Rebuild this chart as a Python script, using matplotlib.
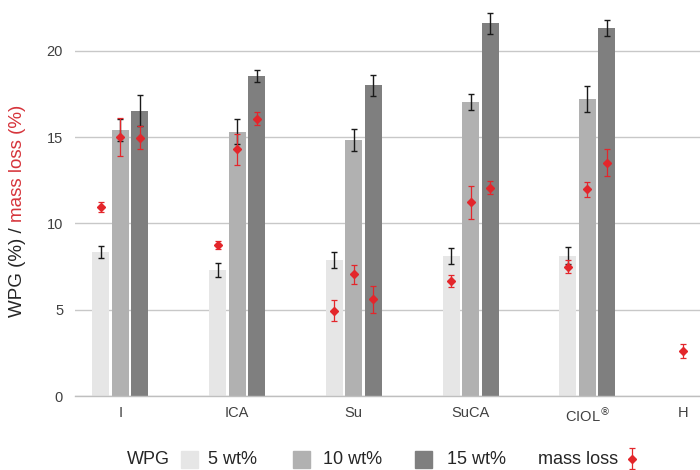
import numpy as np
import matplotlib
matplotlib.use('Agg')
import matplotlib.pyplot as plt
from matplotlib.patches import Rectangle

plt.rcParams['font.family'] = ['Liberation Sans', 'DejaVu Sans']

groups = ['I', 'ICA', 'Su', 'SuCA', r'CIOL$^{\circledR}$']
concentrations = ['5 wt%', '10 wt%', '15 wt%']

# weight percent gain (%) and standard deviations
wpg_5 = [8.35, 7.30, 7.88, 8.12, 8.13]
wpg_5_err = [0.33, 0.40, 0.48, 0.48, 0.48]
wpg_10 = [15.42, 15.32, 14.84, 17.02, 17.20]
wpg_10_err = [0.65, 0.72, 0.65, 0.47, 0.75]
wpg_15 = [16.54, 18.55, 18.01, 21.60, 21.33]
wpg_15_err = [0.90, 0.37, 0.60, 0.60, 0.45]

# mass loss (%) after leaching
ml_5 = [10.97, 8.75, 4.95, 6.67, 7.50]
ml_5_err = [0.30, 0.25, 0.63, 0.37, 0.37]
ml_10 = [15.00, 14.30, 7.05, 11.23, 11.98]
ml_10_err = [1.10, 0.90, 0.53, 0.95, 0.43]
ml_15 = [14.98, 16.06, 5.60, 12.08, 13.53]
ml_15_err = [0.68, 0.38, 0.80, 0.36, 0.78]

# untreated reference
h_label = 'H'
h_ml = 2.61
h_ml_err = 0.42

bar_colors = ['#e6e6e6', '#b1b1b1', '#7f7f7f']
red = '#e3262b'
text_col = '#262626'

fig = plt.figure(figsize=(7, 4.7), dpi=100)
ax = fig.add_axes([0.107, 0.1574, 0.893, 0.837])

x = np.arange(len(groups))
x_h = 4.82
width = 0.146
offsets = [-0.167, 0, 0.167]

wpg = [wpg_5, wpg_10, wpg_15]
wpg_err = [wpg_5_err, wpg_10_err, wpg_15_err]
ml = [ml_5, ml_10, ml_15]
ml_err = [ml_5_err, ml_10_err, ml_15_err]

for i in range(3):
    ax.bar(x + offsets[i], wpg[i], width, color=bar_colors[i], zorder=2)
    ax.errorbar(x + offsets[i], wpg[i], yerr=wpg_err[i], fmt='none',
                ecolor='#1a1a1a', elinewidth=1, capsize=2.5, capthick=1, zorder=3)
    ax.errorbar(x + offsets[i], ml[i], yerr=ml_err[i], fmt='D', color=red,
                markersize=4.5, ecolor=red, elinewidth=0.9, capsize=2.5,
                capthick=0.9, zorder=4)

ax.errorbar([x_h], [h_ml], yerr=[h_ml_err], fmt='D', color=red, markersize=4.5,
            ecolor=red, elinewidth=0.9, capsize=2.5, capthick=0.9, zorder=4)

ax.set_xlim(-0.39, 4.966)
ax.set_ylim(0, 22.8)
ax.set_yticks([0, 5, 10, 15, 20])
ax.set_xticks(list(x) + [x_h])
ax.set_xticklabels(groups + [h_label])
ax.tick_params(axis='both', length=0, labelsize=10.5, colors='#404040')
ax.tick_params(axis='y', pad=8.5)
ax.tick_params(axis='x', pad=7)
ax.grid(axis='y', color='#c8c8c8', linewidth=1, zorder=0)
ax.set_axisbelow(True)
for side in ['left', 'right', 'top']:
    ax.spines[side].set_visible(False)
ax.spines['bottom'].set_color('#bfbfbf')
ax.spines['bottom'].set_linewidth(1)

# two-coloured y label
fig.canvas.draw()
renderer = fig.canvas.get_renderer()
t1 = fig.text(0.0257, 0.3255, 'WPG (%) / ', rotation=90, ha='center', va='bottom',
              fontsize=13.5, color=text_col)
bb = t1.get_window_extent(renderer).transformed(fig.transFigure.inverted())
fig.text(0.0257, bb.y1, 'mass loss (%)', rotation=90, ha='center', va='bottom',
         fontsize=13.5, color='#d6343b')

# legend along the bottom
ly = 0.0223
fs = 13
pw, ph = 17 / 700, 17 / 470
fig.text(0.181, ly, 'WPG', ha='left', va='center', fontsize=fs, color=text_col)
patch_x = [0.2586, 0.4186, 0.593]
label_x = [0.297, 0.461, 0.6386]
for px, lx, col, lab in zip(patch_x, label_x, bar_colors, concentrations):
    fig.patches.append(Rectangle((px, ly - ph / 2), pw, ph, color=col,
                                 transform=fig.transFigure, figure=fig))
    fig.text(lx, ly, lab, ha='left', va='center', fontsize=fs, color=text_col)
fig.text(0.7686, ly, 'mass loss', ha='left', va='center', fontsize=fs, color=text_col)

lax = fig.add_axes([0.88, 0.0, 0.046, 0.052])
lax.errorbar([0], [0], yerr=[1], fmt='D', color=red, markersize=4.5, ecolor=red,
             elinewidth=0.9, capsize=2.5, capthick=0.9)
lax.set_xlim(-1, 1)
lax.set_ylim(-1.1, 1.25)
lax.axis('off')

fig.savefig('out.png', dpi=100)
